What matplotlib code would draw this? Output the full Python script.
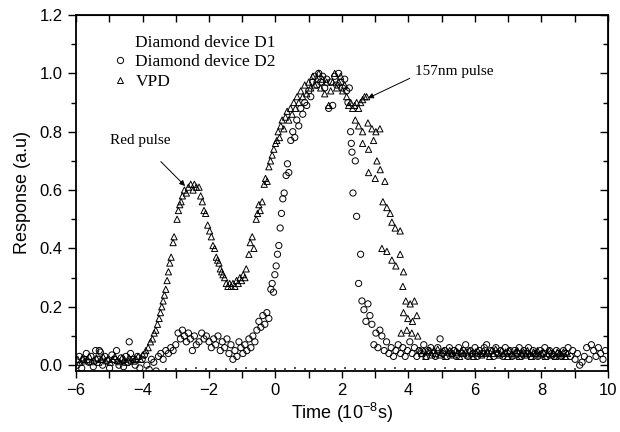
import matplotlib
matplotlib.use("Agg")
import matplotlib.pyplot as plt
from matplotlib.lines import Line2D
from matplotlib.ticker import MultipleLocator, FormatStrFormatter

plt.rcParams['font.family'] = ['Liberation Sans', 'DejaVu Sans']
plt.rcParams['mathtext.default'] = 'regular'

# Diamond device D1 (faint dotted trace along the bottom)
d1_x = [-3.30, -3.00, -2.70, -2.40, -2.10, -1.80, -1.50, -1.20, -0.90, -0.60, -0.30, 0.00,
        0.30, 0.60, 0.90, 1.20, 1.50, 1.80, 2.10, 2.40, 2.70, 3.00, 3.30, 3.60, 3.90, 4.20,
        4.50, 4.80, 5.10, 5.40, 5.70, 6.00, 6.30, 6.60, 6.90, 7.20, 7.50, 7.80, 8.10, 8.40,
        8.70, 9.00]
d1_y = [-0.012, -0.013, -0.012, -0.011, -0.012, -0.013, -0.012, -0.012, -0.011, -0.012, -0.013, -0.012,
        -0.012, -0.011, -0.012, -0.013, -0.012, -0.012, -0.011, -0.012, -0.013, -0.012, -0.012, -0.011,
        -0.012, -0.013, -0.012, -0.012, -0.011, -0.012, -0.013, -0.012, -0.012, -0.011, -0.012, -0.013,
        -0.012, -0.012, -0.011, -0.012, -0.013, -0.012]

# Diamond device D2 (circles)
d2_x = [-5.97, -5.90, -5.83, -5.76, -5.69, -5.62, -5.55, -5.48, -5.41, -5.34, -5.27, -5.20,
        -5.13, -5.06, -4.99, -4.92, -4.85, -4.78, -4.71, -4.64, -4.57, -4.50, -4.43, -4.36,
        -4.29, -4.22, -4.15, -4.08, -4.01, -3.94, -3.87, -3.80, -3.73, -3.66, -3.59, -4.40, -5.30,
        -3.52, -3.45, -3.38, -3.30, -3.22, -3.15, -3.08, -3.00, -2.93, -2.86, -2.80, -2.74,
        -2.68, -2.62, -2.56, -2.50, -2.44, -2.38, -2.30, -2.22, -2.15, -2.08, -2.00, -1.93,
        -1.86, -1.80, -1.73, -1.66, -1.60, -1.53, -1.46, -1.40, -1.34, -1.28, -1.22, -1.16,
        -1.10, -1.04, -0.98, -0.92, -0.86, -0.80, -0.74, -0.68, -0.62, -0.56, -0.50, -0.44,
        -0.38, -0.32, -0.26, -0.20,
        -0.14, -0.10, -0.06, -0.02, 0.02, 0.06, 0.10, 0.14, 0.18, 0.22, 0.26, 0.32, 0.36, 0.40,
        0.46, 0.52, 0.58, 0.64, 0.70, 0.76, 0.82, 0.88, 0.94, 1.00, 1.06, 1.12, 1.18, 1.24,
        1.30, 1.36, 1.42, 1.48, 1.54, 1.60, 1.66, 1.72, 1.78, 1.84, 1.90, 1.96, 2.02, 2.08,
        2.14, 2.18, 2.22, 2.26, 2.28, 2.30, 2.33, 2.40, 2.44, 2.50, 2.56, 2.60, 2.66, 2.72,
        2.78, 2.84, 2.90, 2.96, 3.02, 3.08, 3.14, 3.20,
        3.27, 3.34, 3.41, 3.48, 3.55, 3.62, 3.69, 3.76, 3.83, 3.90, 3.97, 4.04, 4.11, 4.18,
        4.25, 4.32, 4.39, 4.46, 4.53, 4.60, 4.67, 4.74, 4.81, 4.88, 4.95, 5.02, 5.09, 5.16,
        5.23, 5.30, 5.37, 5.44, 5.51, 5.58, 5.65, 5.72, 5.79, 5.86, 5.93, 6.00, 6.07, 6.14,
        6.21, 6.28, 6.35, 6.42, 6.49, 6.56, 6.63, 6.70, 6.77, 6.84, 6.91, 6.98, 7.05, 7.12,
        7.19, 7.26, 7.33, 7.40, 7.47, 7.54, 7.61, 7.68, 7.75, 7.82, 7.89, 7.96, 8.03, 8.10,
        8.17, 8.24, 8.31, 8.38, 8.45, 8.52, 8.59, 8.66, 8.73, 8.80, 8.87, 8.94, 9.01, 9.08,
        9.15, 9.22, 9.29, 9.36, 9.43, 9.50, 9.57, 9.64, 9.71, 9.78, 9.85, 9.92]
d2_y = [0.0, 0.03, -0.01, 0.02, 0.04, 0.01, 0.03, -0.005, 0.05, 0.02, 0.045, 0.0,
        0.03, 0.015, -0.01, 0.035, 0.02, 0.05, 0.0, 0.025, -0.005, 0.03, 0.01, 0.04,
        0.02, 0.0, 0.03, -0.01, 0.02, 0.035, 0.0, -0.015, 0.02, 0.01, -0.02, 0.08, 0.05,
        0.03, 0.04, 0.02, 0.05, 0.04, 0.06, 0.05, 0.07, 0.11, 0.09, 0.12, 0.10,
        0.08, 0.11, 0.09, 0.05, 0.10, 0.07, 0.08, 0.11, 0.09, 0.10, 0.08, 0.06,
        0.09, 0.07, 0.10, 0.05, 0.08, 0.06, 0.09, 0.04, 0.07, 0.02, 0.05, 0.03,
        0.08, 0.06, 0.04, 0.07, 0.05, 0.09, 0.06, 0.10, 0.08, 0.12, 0.15, 0.13,
        0.17, 0.14, 0.18, 0.16,
        0.26, 0.28, 0.25, 0.31, 0.34, 0.38, 0.41, 0.47, 0.52, 0.57, 0.59, 0.65, 0.69, 0.66,
        0.77, 0.80, 0.78, 0.84, 0.82, 0.88, 0.86, 0.90, 0.89, 0.94, 0.92, 0.97, 0.99, 0.96,
        1.00, 0.97, 0.99, 0.95, 0.98, 0.88, 0.97, 0.89, 0.99, 0.96, 1.00, 0.97, 0.95, 0.98,
        0.94, 0.90, 0.95, 0.80, 0.76, 0.73, 0.59, 0.70, 0.51, 0.28, 0.38, 0.22, 0.19, 0.15,
        0.21, 0.17, 0.14, 0.07, 0.11, 0.06, 0.12, 0.10,
        0.05, 0.08, 0.04, 0.06, 0.03, 0.05, 0.07, 0.04, 0.06, 0.03, 0.05, 0.08, 0.04, 0.06,
        0.03, 0.05, 0.04, 0.07, 0.03, 0.05, 0.06, 0.04, 0.03, 0.06, 0.09, 0.04, 0.05, 0.03,
        0.06, 0.04, 0.05, 0.03, 0.06, 0.04, 0.05, 0.07, 0.03, 0.05, 0.04, 0.06, 0.03, 0.05,
        0.04, 0.06, 0.07, 0.04, 0.05, 0.03, 0.06, 0.04, 0.05, 0.03, 0.06, 0.04, 0.05, 0.03,
        0.05, 0.04, 0.06, 0.03, 0.05, 0.04, 0.06, 0.03, 0.05, 0.04, 0.03, 0.05, 0.04, 0.06,
        0.03, 0.05, 0.04, 0.03, 0.05, 0.04, 0.03, 0.05, 0.04, 0.06, 0.03, 0.05, 0.02, 0.04,
        0.0, 0.01, 0.03, 0.06, 0.02, 0.07, 0.05, 0.03, 0.06, 0.04, 0.02, 0.05]

# VPD (triangles)
vpd_x = [-5.95, -5.88, -5.81, -5.74, -5.67, -5.60, -5.53, -5.46, -5.39, -5.32, -5.25, -5.18,
         -5.11, -5.04, -4.97, -4.90, -4.83, -4.76, -4.69, -4.62, -4.55, -4.48, -4.41, -4.34,
         -4.27, -4.20, -4.13, -4.06, -3.99,
         -3.90, -3.83, -3.76, -3.70, -3.65, -3.60, -3.55, -3.50, -3.46, -3.42, -3.38, -3.34,
         -3.30, -3.26, -3.22, -3.18, -3.14, -3.08, -3.05, -2.96, -2.92, -2.88, -2.84, -2.80,
         -2.74, -2.68, -2.62, -2.55, -2.48, -2.44, -2.38, -2.30, -2.25, -2.20, -2.15, -2.10,
         -2.04, -1.98, -1.93, -1.88, -1.83, -1.78, -1.74, -1.70, -1.66, -1.62, -1.58, -1.53,
         -1.48, -1.43, -1.38, -1.33, -1.28, -1.22, -1.17, -1.12, -1.07, -1.02, -0.97, -0.92,
         -0.88, -0.80, -0.76, -0.70, -0.65, -0.58, -0.54, -0.50, -0.46, -0.40, -0.34, -0.30,
         -0.25, -0.20, -0.15, -0.10, -0.05, 0.00, 0.04, 0.08, 0.12, 0.16, 0.20, 0.25, 0.30,
         0.35, 0.40, 0.45, 0.50, 0.55, 0.60, 0.65, 0.70, 0.76, 0.82, 0.88, 0.94, 1.00, 1.06,
         1.12, 1.18, 1.24, 1.30, 1.36, 1.42, 1.48, 1.54, 1.60, 1.66, 1.72, 1.78, 1.84, 1.90,
         1.96, 2.02, 2.08, 2.14, 2.20, 2.26, 2.32, 2.38, 2.44, 2.50, 2.56, 2.62, 2.68, 2.74,
         2.40, 2.50, 2.62, 2.78, 2.90, 3.02, 3.14, 2.62, 2.80, 2.95, 3.05, 2.80, 3.00, 3.15,
         3.29, 3.23, 3.35, 3.45, 3.50, 3.60, 3.75, 3.20, 3.35, 3.50, 3.62, 3.75, 3.85, 3.83,
         3.92, 4.05, 4.18, 3.85, 3.98, 4.12, 4.25, 3.78, 3.95, 4.10, 4.28,
         4.34, 4.40, 4.46, 4.52, 4.58, 4.64, 4.70, 4.76, 4.82, 4.88, 4.94, 5.00, 5.06, 5.12,
         5.18, 5.24, 5.30, 5.36, 5.42, 5.48, 5.54, 5.60, 5.66, 5.72, 5.78, 5.84, 5.90, 5.96,
         6.02, 6.08, 6.14, 6.20, 6.26, 6.32, 6.38, 6.44, 6.50, 6.56, 6.62, 6.68, 6.74, 6.80,
         6.86, 6.92, 6.98, 7.04, 7.10, 7.16, 7.22, 7.28, 7.34, 7.40, 7.46, 7.52, 7.58, 7.64,
         7.70, 7.76, 7.82, 7.88, 7.94, 8.00, 8.06, 8.12, 8.18, 8.24, 8.30, 8.36, 8.42, 8.48,
         8.54, 8.60, 8.66, 8.72, 8.78]
vpd_y = [0.02, 0.01, 0.025, 0.015, 0.02, 0.03, 0.012, 0.018, 0.025, 0.01, 0.02, 0.028,
         0.015, 0.022, 0.01, 0.02, 0.03, 0.016, 0.012, 0.024, 0.02, 0.01, 0.026, 0.018,
         0.014, 0.022, 0.03, 0.02, 0.035,
         0.05, 0.06, 0.08, 0.09, 0.11, 0.12, 0.14, 0.16, 0.18, 0.20, 0.22, 0.24,
         0.26, 0.29, 0.32, 0.35, 0.37, 0.42, 0.44, 0.50, 0.53, 0.55, 0.56, 0.58,
         0.60, 0.59, 0.61, 0.62, 0.60, 0.62, 0.61, 0.61, 0.58, 0.56, 0.53, 0.52,
         0.48, 0.46, 0.44, 0.41, 0.40, 0.37, 0.36, 0.35, 0.33, 0.32, 0.31, 0.30,
         0.28, 0.27, 0.28, 0.27, 0.28, 0.27, 0.29, 0.28, 0.30, 0.29, 0.31, 0.30,
         0.33, 0.38, 0.42, 0.44, 0.40, 0.50, 0.52, 0.55, 0.53, 0.56, 0.62, 0.64,
         0.63, 0.68, 0.70, 0.72, 0.74, 0.76, 0.77, 0.80, 0.78, 0.82, 0.84, 0.81, 0.85,
         0.87, 0.84, 0.88, 0.86, 0.90, 0.88, 0.92, 0.90, 0.94, 0.92, 0.96, 0.93, 0.97, 0.95,
         0.99, 0.96, 0.98, 1.00, 0.95, 0.98, 0.93, 0.97, 0.89, 0.94, 0.97, 1.00, 0.95, 0.97,
         0.99, 0.94, 0.96, 0.92, 0.89, 0.90, 0.88, 0.89, 0.90, 0.88, 0.90, 0.91, 0.92, 0.92,
         0.84, 0.82, 0.80, 0.83, 0.81, 0.80, 0.81, 0.76, 0.74, 0.77, 0.70, 0.66, 0.64, 0.67,
         0.63, 0.56, 0.54, 0.52, 0.49, 0.47, 0.46, 0.40, 0.39, 0.36, 0.34, 0.38, 0.32, 0.27,
         0.22, 0.21, 0.22, 0.18, 0.16, 0.15, 0.17, 0.11, 0.12, 0.11, 0.10,
         0.05, 0.04, 0.05, 0.03, 0.045, 0.05, 0.035, 0.05, 0.04, 0.055, 0.035, 0.045, 0.05, 0.03,
         0.045, 0.05, 0.04, 0.035, 0.05, 0.045, 0.03, 0.05, 0.04, 0.045, 0.035, 0.05, 0.04, 0.03,
         0.045, 0.05, 0.04, 0.035, 0.05, 0.04, 0.045, 0.03, 0.05, 0.04, 0.055, 0.045, 0.035, 0.05,
         0.04, 0.045, 0.03, 0.05, 0.04, 0.035, 0.045, 0.05, 0.03, 0.04, 0.045, 0.035, 0.05, 0.04,
         0.03, 0.045, 0.04, 0.05, 0.035, 0.04, 0.045, 0.03, 0.04, 0.05, 0.035, 0.04, 0.03, 0.045,
         0.04, 0.035, 0.045, 0.03, 0.04]

fig = plt.figure(figsize=(6.2, 4.32), dpi=100)
ax = fig.add_axes([0.1226, 0.1412, 0.8580, 0.8241])

ax.scatter(d1_x, d1_y, s=1.5, marker='s', color='#555555', linewidths=0, zorder=2)
ax.scatter(d2_x, d2_y, s=20, marker='o', facecolors='none', edgecolors='black', linewidths=0.7, zorder=3)
ax.scatter(vpd_x, vpd_y, s=20, marker='^', facecolors='none', edgecolors='black', linewidths=0.7, zorder=3)

ax.set_xlim(-6, 10)
ax.set_ylim(-0.02, 1.2)
ax.xaxis.set_major_locator(MultipleLocator(2))
ax.xaxis.set_minor_locator(MultipleLocator(1))
ax.yaxis.set_major_locator(MultipleLocator(0.2))
ax.yaxis.set_minor_locator(MultipleLocator(0.1))
ax.yaxis.set_major_formatter(FormatStrFormatter('%.1f'))
ax.tick_params(which='both', direction='out', width=1.0, labelsize=12)
ax.tick_params(axis='x', which='both', length=5)
ax.tick_params(axis='y', which='major', length=6)
ax.tick_params(axis='y', which='minor', length=3.5)
for s in ax.spines.values():
    s.set_linewidth(1.3)

# mirrored ticks pointing inward on top and right
top = ax.secondary_xaxis('top')
top.xaxis.set_major_locator(MultipleLocator(2))
top.xaxis.set_minor_locator(MultipleLocator(1))
top.tick_params(which='both', direction='in', labeltop=False, width=1.0, length=5)
right = ax.secondary_yaxis('right')
right.yaxis.set_major_locator(MultipleLocator(0.2))
right.yaxis.set_minor_locator(MultipleLocator(0.1))
right.tick_params(which='both', direction='in', labelright=False, width=1.0)
right.tick_params(which='major', length=6)
right.tick_params(which='minor', length=3.5)

ax.set_xlabel('Time (10$^{-8}$s)', fontsize=13, labelpad=2)
ax.set_ylabel('Response (a.u)', fontsize=13, labelpad=6)

handles = [Line2D([], [], linestyle='none'),
           Line2D([], [], linestyle='none', marker='o', markerfacecolor='none', markeredgecolor='black', markersize=4.5, markeredgewidth=0.7),
           Line2D([], [], linestyle='none', marker='^', markerfacecolor='none', markeredgecolor='black', markersize=4.5, markeredgewidth=0.7)]
ax.legend(handles, ['Diamond device D1', 'Diamond device D2', 'VPD'], loc='upper left',
          bbox_to_anchor=(0.056, 0.965), frameon=False, handlelength=0.8, handletextpad=0.5,
          labelspacing=0.2, borderaxespad=0, prop={'family': 'Liberation Serif', 'size': 12.5})

ax.annotate('Red pulse', xy=(-2.72, 0.614), xytext=(-4.08, 0.77), ha='center', va='center',
            family='Liberation Serif', fontsize=11,
            arrowprops=dict(arrowstyle='-|>', color='black', lw=0.7, mutation_scale=8,
                            shrinkA=12, shrinkB=0))
ax.annotate('157nm pulse', xy=(2.78, 0.915), xytext=(4.2, 1.005), ha='left', va='center',
            family='Liberation Serif', fontsize=11,
            arrowprops=dict(arrowstyle='-|>', color='black', lw=0.7, mutation_scale=8,
                            shrinkA=2, shrinkB=0, relpos=(0, 0.2)))

fig.savefig('out.png', dpi=100)
